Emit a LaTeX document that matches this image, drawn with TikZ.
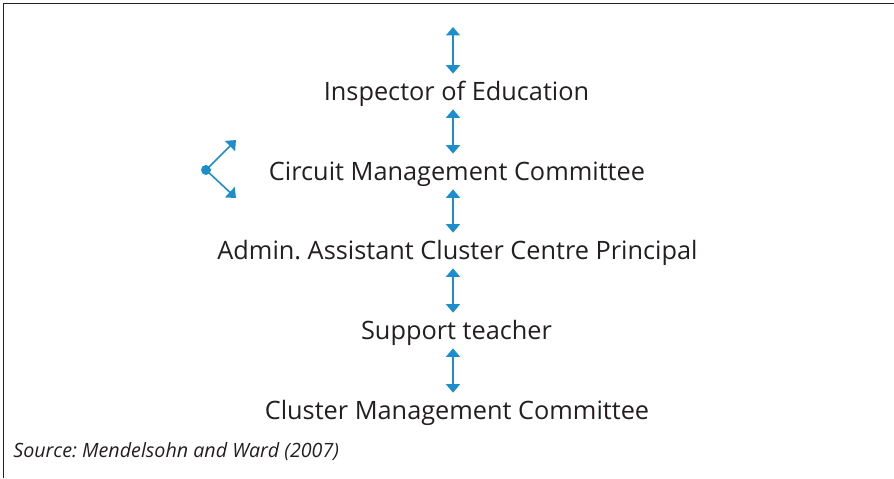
\documentclass[tikz,border=0pt]{standalone}
\usepackage{fontspec}
\setmainfont{Open Sans}
\usetikzlibrary{arrows.meta}
\definecolor{linkblue}{RGB}{28,142,204}
\definecolor{textgrey}{RGB}{35,31,32}
\frenchspacing
\tikzset{
  level/.style={anchor=base,inner sep=0pt,text height=0.54cm,text depth=0.16cm,
    font=\fontsize{14.4}{16}\selectfont,text=textgrey},
  link/.style={linkblue,line width=0.9pt,{Triangle[width=0.28cm,length=0.17cm]}-{Triangle[width=0.28cm,length=0.17cm]}},
  branch/.style={linkblue,line width=0.9pt,-{Triangle[width=0.28cm,length=0.17cm]}}
}
\begin{document}
\begin{tikzpicture}
  \useasboundingbox (0,0) rectangle (17.88,9.56);
  %Rahmen
  \draw[textgrey,line width=1.1pt] (0.07,0) -- (0.07,9.49) -- (17.88,9.49);
  %Ebenen
  \coordinate (ax) at (9.06,9.02);
  \node[level] (insp) at (9.13,7.54) {Inspector of Education};
  \node[level] (circ) at (9.14,5.94) {Circuit Management Committee};
  \node[level] (admin) at (9.15,4.36) {Admin. Assistant Cluster Centre Principal};
  \node[level] (supp) at (9.13,2.76) {Support teacher};
  \node[level] (clus) at (9.14,1.16) {Cluster Management Committee};
  %Pfeile
  \draw[link] (ax) -- (insp.north -| ax);
  \draw[link] (insp.south -| ax) -- (circ.north -| ax);
  \draw[link] (circ.south -| ax) -- (admin.north -| ax);
  \draw[link] (admin.south -| ax) -- (supp.north -| ax);
  \draw[link] (supp.south -| ax) -- (clus.north -| ax);
  %Verzweigung
  \coordinate (fork) at (4.12,6.16);
  \coordinate (up) at (4.72,6.76);
  \coordinate (down) at (4.72,5.6);
  \draw[branch] (fork) -- (up);
  \draw[branch] (fork) -- (down);
  \fill[linkblue] (fork) circle [radius=0.1];
  %Quelle
  \node[anchor=base west,inner sep=0pt,text=textgrey,font=\fontsize{11.2}{13}\selectfont\itshape] (src) at (0.26,0.4) {Source: Mendelsohn and Ward (2007)};
\end{tikzpicture}
\end{document}
